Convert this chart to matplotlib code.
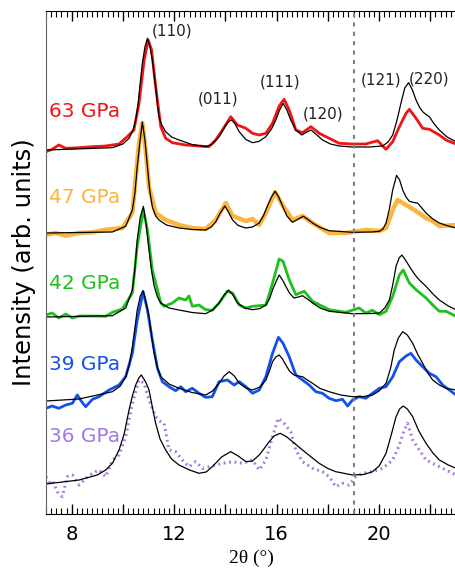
import numpy as np
import matplotlib
matplotlib.use("Agg")
import matplotlib.pyplot as plt
from matplotlib.ticker import MultipleLocator, FuncFormatter

# ---------------- data (2theta in degrees, intensity in arb. units) ----------------
labels = ["63 GPa", "47 GPa", "42 GPa", "39 GPa", "36 GPa"]
offsets = [364, 281, 197, 113, 30]

# 63 GPa
x63 = [7.0, 7.24, 7.50, 7.77, 8.29, 8.81, 9.33, 9.85, 10.17, 10.43, 10.63, 10.83, 10.99, 11.12,
       11.28, 11.48, 11.67, 11.93, 12.45, 12.97, 13.36, 13.62, 13.885, 14.21, 14.47, 14.80, 15.06,
       15.32, 15.58, 15.84, 16.10, 16.29, 16.49, 16.75, 17.01, 17.34, 17.66, 18.05, 18.44, 18.96,
       19.48, 19.94, 20.14, 20.27, 20.53, 20.79, 21.05, 21.18, 21.44, 21.70, 21.96, 22.35, 22.61, 23.0]
y63 = [-1.7, 0.7, 5, 1.7, 2.3, 3.3, 4, 6, 13.3, 20, 46.7, 90, 110, 100, 63.3, 23.3, 11.7, 7.3, 5, 4,
       3.3, 10, 20, 33.3, 25, 21.7, 16.7, 15, 16.7, 26.7, 44, 50.7, 40, 20, 17.3, 23.3, 16.7, 11.7,
       6.7, 6, 6, 9.3, 4, 0.7, 8.3, 23.3, 36.7, 40.7, 31.7, 21.7, 20.7, 15, 10, 6]
fx63 = [7.0, 9.59, 10.0, 10.24, 10.40, 10.50, 10.60, 10.66, 10.76, 10.86, 10.96, 11.05, 11.15,
        11.22, 11.28, 11.35, 11.41, 11.5, 11.67, 11.9, 12.19, 12.7, 13.23, 13.5, 13.755, 13.9,
        14.02, 14.13, 14.25, 14.38, 14.54, 14.8, 15.06, 15.3, 15.58, 15.8, 15.97, 16.1, 16.25,
        16.4, 16.55, 16.75, 16.98, 17.15, 17.34, 17.55, 17.79, 18.1, 18.44, 18.96, 19.6, 20.14,
        20.35, 20.53, 20.7, 20.85, 21.0, 21.15, 21.3, 21.44, 21.57, 21.7, 21.83, 21.96, 22.15,
        22.35, 22.65, 23.0]
fy63 = [0, 2.3, 6, 11.7, 20, 30, 47, 63.3, 86.7, 103, 111.7, 104, 90, 75, 63.3, 45, 33.3, 26,
        18.3, 13, 10, 5.5, 3.3, 6, 13.3, 19.5, 25, 28.5, 30, 26, 18.3, 10.5, 7.3, 8.5, 13.3, 21,
        30, 39, 46.7, 40, 30, 20, 15, 17.5, 20, 15.5, 10, 6, 4, 3, 3, 4, 8, 15, 30, 46.7, 62, 67.3,
        60, 50, 43, 38.3, 35.5, 33.3, 26, 20, 13, 8.3]

# 47 GPa
x47 = [7.0, 7.37, 7.77, 8.29, 8.81, 9.33, 9.98, 10.37, 10.63, 10.76, 10.89, 11.02, 11.28, 11.67,
       12.19, 12.71, 13.23, 13.62, 14.02, 14.28, 14.80, 15.06, 15.32, 15.58, 15.94, 16.23, 16.62,
       17.01, 17.40, 18.05, 18.70, 19.48, 20.01, 20.27, 20.53, 20.72, 21.05, 21.44, 21.83, 22.09,
       22.35, 23.0]
y47 = [-1.7, 0, -2.7, 0, 0.7, 3.3, 5, 20, 90, 110, 83, 46, 20, 13, 8, 5, 4, 13, 30, 17, 12, 14, 8,
       20, 41, 28, 13, 17, 10, 0, 0, 3, 2, 5, 23, 33, 28, 22, 15, 12, 7, 8]
fx47 = [7.0, 9.59, 10.11, 10.37, 10.47, 10.56, 10.66, 10.76, 10.86, 10.96, 11.05, 11.15, 11.28,
        11.41, 11.7, 12.19, 12.7, 13.23, 13.45, 13.62, 13.8, 13.98, 14.12, 14.28, 14.5, 14.80,
        15.06, 15.32, 15.5, 15.64, 15.8, 15.94, 16.08, 16.23, 16.4, 16.62, 16.85, 17.04, 17.2,
        17.40, 17.7, 18.05, 18.96, 19.7, 20.01, 20.15, 20.27, 20.4, 20.53, 20.68, 20.8, 20.92,
        21.05, 21.18, 21.35, 21.50, 21.65, 21.83, 22.1, 22.35, 22.7, 23.0]
fy47 = [0, 1, 6.7, 23, 40, 66, 90, 111, 93, 66, 42, 26, 17, 13, 8, 5, 3.5, 3, 6, 11, 20, 27, 21,
        13, 7.5, 5, 6, 10, 18, 27, 36, 41.7, 36, 27, 17, 10.7, 14, 16.7, 14, 10, 5.5, 2.3, 0.7, 1,
        1.7, 4, 10, 24, 43, 57.7, 53, 43, 36, 31.7, 30.5, 30, 25.5, 20, 14, 10, 7, 5]

# 42 GPa
x42 = [7.0, 7.24, 7.50, 7.77, 8.03, 8.29, 8.81, 9.33, 9.59, 9.98, 10.37, 10.56, 10.80, 10.96,
       11.15, 11.48, 11.61, 11.93, 12.19, 12.45, 12.58, 12.71, 12.97, 13.23, 13.49, 13.755, 14.08,
       14.28, 14.54, 14.80, 15.06, 15.32, 15.58, 15.84, 16.10, 16.25, 16.49, 16.75, 17.08, 17.40,
       18.05, 18.70, 19.22, 19.48, 19.74, 20.01, 20.27, 20.53, 20.79, 20.94, 21.18, 21.44, 21.83,
       22.09, 22.35, 22.61, 23.0]
y42 = [2, 4, -1, 3, -1, 1, 1, 0.7, 4.7, 8, 24, 71, 107, 87, 47, 14, 10.7, 14, 19, 17, 21, 10.7,
       12, 7.3, 6.7, 14, 25.7, 24, 12, 9, 10.7, 11.3, 12, 33.7, 58, 55.7, 37.3, 22.3, 25.7, 15.7,
       7.3, 4.7, 9, 4, 6.7, 2.3, 5.7, 20.7, 42, 47, 34, 27.3, 19, 12, 5.7, 5.7, 0.7]
fx42 = [7.0, 9.59, 10.11, 10.37, 10.47, 10.56, 10.68, 10.80, 10.91, 11.02, 11.12, 11.22, 11.35,
        11.48, 11.8, 12.19, 12.7, 13.23, 13.5, 13.755, 13.95, 14.12, 14.3, 14.47, 14.75, 15.06,
        15.35, 15.58, 15.72, 15.84, 15.97, 16.10, 16.23, 16.36, 16.5, 16.68, 16.85, 17.01, 17.2,
        17.40, 17.7, 18.05, 18.96, 19.7, 20.01, 20.22, 20.40, 20.53, 20.66, 20.78, 20.89, 21.0,
        21.18, 21.35, 21.50, 21.65, 21.83, 22.1, 22.35, 22.7, 23.0]
fy42 = [0, 1.3, 9, 27, 48, 77, 100, 110.7, 92, 67, 46, 31, 20, 14, 9, 7, 4.5, 3.3, 7, 14, 22, 27,
        22, 14, 9, 7.3, 8.5, 12, 18, 27, 35, 42, 37, 30.7, 24, 19, 20, 21.3, 18, 14, 9, 5.7, 3.3,
        3.5, 4, 9, 17, 32, 50.7, 59, 62, 58, 50.7, 44, 39, 35, 30.7, 23, 17, 11, 7.3]

# 39 GPa
x39 = [7.0, 7.24, 7.50, 7.77, 8.03, 8.22, 8.42, 8.55, 8.81, 9.07, 9.46, 9.85, 10.11, 10.37, 10.56,
       10.79, 10.96, 11.15, 11.35, 11.54, 11.80, 12.06, 12.26, 12.45, 12.71, 12.97, 13.23, 13.49,
       13.755, 14.08, 14.34, 14.54, 14.80, 15.06, 15.32, 15.58, 15.84, 16.07, 16.25, 16.49, 16.75,
       17.01, 17.27, 17.53, 17.79, 18.05, 18.31, 18.57, 18.77, 18.96, 19.22, 19.48, 19.74, 20.01,
       20.27, 20.53, 20.79, 21.05, 21.24, 21.44, 21.70, 21.96, 22.22, 22.48, 22.74, 23.0]
y39 = [-7.3, -5, -7.3, -4, -2.3, 6, -1.7, -5.7, 1.7, 4.3, 11, 16, 24.3, 47.7, 81, 109.3, 91, 61,
       32.7, 19.3, 14.3, 10.3, 14.3, 9.3, 12.7, 7.7, 3.7, 4.3, 19.3, 21, 16, 19.3, 14.3, 7.7, 11,
       24.3, 47.7, 63.7, 57.7, 44.3, 26, 21, 16, 9.3, 7.7, 2.7, 0.3, 1.7, -5, 1, 4.3, 2.7, 7.7,
       12.7, 14.3, 24.3, 39.3, 45, 47.7, 41, 34.3, 27.7, 24.3, 16, 11, 6]
fx39 = [7.0, 8.29, 9.59, 9.9, 10.11, 10.25, 10.37, 10.47, 10.56, 10.68, 10.79, 10.9, 11.02, 11.12,
        11.22, 11.35, 11.48, 11.8, 12.19, 12.7, 13.23, 13.5, 13.755, 13.95, 14.15, 14.35, 14.54,
        14.8, 15.06, 15.35, 15.58, 15.72, 15.84, 15.97, 16.10, 16.23, 16.36, 16.5, 16.68, 16.85,
        17.01, 17.2, 17.40, 17.7, 18.05, 18.5, 18.96, 19.4, 19.74, 20.0, 20.27, 20.45, 20.59,
        20.75, 20.92, 21.1, 21.31, 21.5, 21.70, 21.9, 22.09, 22.35, 22.61, 23.0]
fy39 = [0, 2, 9.3, 15, 24.3, 36, 54.3, 73, 91, 105, 110.3, 99, 84.3, 65, 47.7, 33, 24.3, 17, 12.7,
        8.5, 6, 10, 17.7, 25, 29.3, 25, 17.7, 13, 11, 14, 21, 30, 39.3, 44, 46, 42, 36, 30, 26, 25,
        24.3, 21, 17.7, 12.5, 9.3, 6, 4.3, 4.5, 6, 10, 17.7, 33, 51, 63, 69.3, 66, 57.7, 47, 37.7,
        28, 21, 16, 12.7, 11]

# 36 GPa
x36 = [7.0, 7.11, 7.24, 7.44, 7.635, 7.83, 8.03, 8.29, 8.55, 8.81, 9.07, 9.33, 9.59, 9.85, 10.11,
       10.37, 10.63, 10.83, 11.02, 11.28, 11.48, 11.61, 11.80, 12.06, 12.32, 12.58, 12.84, 13.10,
       13.36, 13.62, 13.885, 14.28, 14.67, 15.06, 15.32, 15.58, 15.84, 16.06, 16.29, 16.55, 16.75,
       17.01, 17.40, 17.79, 18.05, 18.31, 18.57, 18.83, 19.09, 19.35, 19.74, 20.14, 20.53, 20.79,
       20.98, 21.11, 21.31, 21.57, 21.83, 22.22, 22.61, 23.0]
y36 = [7.3, -1, 4, -7.7, -12.7, 7.3, 9, -1, 5.7, 10.7, 14, 7.3, 24, 29, 47.3, 80.7, 104, 100.7,
       84, 67.3, 62.3, 60.7, 34, 32.3, 24, 17.3, 22.3, 15.7, 17.3, 19, 20.7, 22.3, 20.7, 24, 14,
       24, 47.3, 65.7, 60.7, 52.3, 34, 22.3, 15.7, 12.3, 7.3, -2.7, 0.7, -1, 7.3, 10.7, 12.3, 15.7,
       24, 39, 54, 60.7, 44, 34, 24, 19, 14, 9]
fx36 = [7.0, 8.29, 9.0, 9.33, 9.6, 9.85, 10.05, 10.24, 10.37, 10.50, 10.62, 10.72, 10.82, 10.89,
        11.02, 11.15, 11.28, 11.45, 11.67, 11.9, 12.19, 12.6, 12.97, 13.25, 13.49, 13.85, 14.21,
        14.5, 14.80, 15.06, 15.32, 15.5, 15.71, 15.9, 16.14, 16.4, 16.62, 17.01, 17.3, 17.66, 18.0,
        18.31, 18.96, 19.4, 19.74, 20.0, 20.27, 20.45, 20.66, 20.8, 20.94, 21.1, 21.31, 21.55,
        21.83, 22.1, 22.35, 22.7, 23.0]
fy36 = [0, 4, 9, 14, 21, 34, 50, 74, 88, 99, 106, 109, 105, 102, 94, 77, 60.7, 45, 34, 25, 19, 14,
        10.7, 12, 17.3, 27, 32.3, 28, 22.3, 23, 29, 35, 42.3, 48, 50.7, 47, 42.3, 34, 28, 20.7,
        15.5, 12.3, 9, 9.5, 12.3, 18, 30.7, 47, 67.3, 75, 78, 75, 67.3, 53, 40.7, 31, 24, 19, 15.7]

data_x = [x63, x47, x42, x39, x36]
data_y = [y63, y47, y42, y39, y36]
fit_x = [fx63, fx47, fx42, fx39, fx36]
fit_y = [fy63, fy47, fy42, fy39, fy36]

colors = ['#f01414', '#fbb43c', '#1ec01e', '#1450f0', '#a478e4']
label_y = [403, 317, 231, 149, 78]

hkl = ["(110)", "(011)", "(111)", "(120)", "(121)", "(220)"]
hkl_x = [11.93, 13.72, 16.13, 17.82, 20.07, 21.96]
hkl_y = [483, 415, 432, 400, 434, 435]

# ---------------- plot ----------------
fig = plt.figure(figsize=(4.56, 5.71), dpi=100)
ax = fig.add_axes([46 / 456, 57 / 571, 410 / 456, 503 / 571])

for i in range(5):
    dy = np.array(data_y[i]) + offsets[i]
    fy = np.array(fit_y[i]) + offsets[i]
    if i == 4:
        ax.plot(data_x[i], dy, color=colors[i], lw=2.2, ls=(0, (0.6, 1.2)))
    elif i == 1:
        ax.plot(data_x[i], dy, color=colors[i], lw=3.2)
    else:
        ax.plot(data_x[i], dy, color=colors[i], lw=2.0)
    ax.plot(fit_x[i], fy, color='black', lw=0.9)
    ax.text(7.12, label_y[i], labels[i], color=colors[i], fontsize=14.5,
            ha='left', va='center')

for s, xx, yy in zip(hkl, hkl_x, hkl_y):
    ax.text(xx, yy, s, fontsize=11, ha='center', va='center', color='#222222')

ax.axvline(19.0, color='#808080', lw=1.5, ls=(0, (2, 2.5)))

ax.set_xlim(7, 23)
ax.set_ylim(0, 503)
ax.set_yticks([])
ax.xaxis.set_major_locator(MultipleLocator(2))
ax.xaxis.set_minor_locator(MultipleLocator(0.2))
ax.xaxis.set_major_formatter(FuncFormatter(lambda v, p: "%d" % v if v % 4 == 0 else ""))
ax.tick_params(axis='x', which='both', direction='in', top=True, labelsize=14, pad=8)
ax.tick_params(axis='x', which='major', length=7, width=1)
ax.tick_params(axis='x', which='minor', length=4, width=0.8)
ax.spines['right'].set_visible(False)
ax.spines['left'].set_color('#666666')

ax.set_xlabel("2θ (°)", fontsize=14, family='Liberation Serif', labelpad=4)
ax.set_ylabel("Intensity (arb. units)", fontsize=17.5, labelpad=7)

fig.savefig("out.png", dpi=100)
